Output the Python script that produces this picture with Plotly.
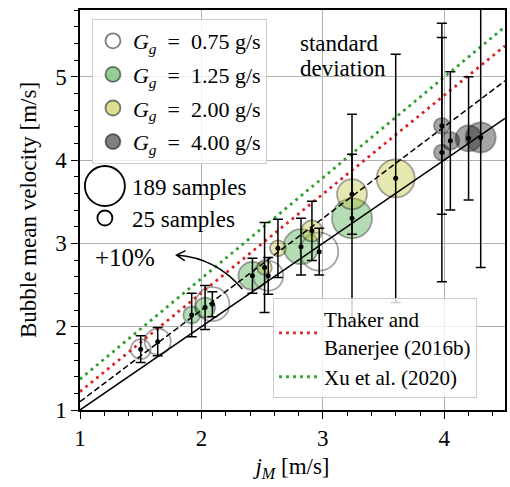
import numpy as np
import plotly.graph_objects as go

# ---------------- data ----------------
x_075 = [1.50, 1.64, 2.09, 2.55, 2.97]
y_075 = [1.73, 1.82, 2.27, 2.61, 2.90]
e_075 = [0.16, 0.17, 0.15, 0.22, 0.28]
n_075 = [47, 80, 137, 106, 171]

x_125 = [1.92, 2.03, 2.42, 2.82, 3.24]
y_125 = [2.14, 2.23, 2.61, 2.96, 3.30]
e_125 = [0.26, 0.265, 0.21, 0.34, 1.25]
n_125 = [34, 47, 93, 145, 189]

x_200 = [2.52, 2.63, 2.91, 3.24, 3.60]
y_200 = [2.71, 2.94, 3.15, 3.59, 3.78]
e_200 = [0.54, 0.35, 0.355, 0.48, 1.49]
n_200 = [25, 30, 52, 106, 171]

x_400 = [3.98, 3.98, 4.05, 4.20, 4.30]
y_400 = [4.41, 4.09, 4.23, 4.26, 4.27]
e_400 = [1.06, 1.55, 0.83, 0.74, 1.56]
n_400 = [30, 30, 38, 80, 106]

line_x = [1.0, 4.5]
ref_y = [1.0, 4.5]
plus10_y = [1.1, 4.95]
thaker_y = [1.22, 5.37]
xu_y = [1.37, 5.60]

x_ticks = [1, 2, 3, 4]
y_ticks = [1, 2, 3, 4, 5]

group_names = ["0.75", "1.25", "2.00", "4.00"]
# --------------------------------------

FONT = "Liberation Serif"
FS = 23
W, H = 510, 487
ML, MR, MT, MB = 80, 3, 10, 77
XR = [1, 4.5]
YR = [1, 5.8]
PW = W - ML - MR
PH = H - MT - MB

EDGE = "rgba(0,0,0,0.5)"
fills = ["rgba(0,0,0,0)", "rgba(44,160,44,0.5)", "rgba(188,189,34,0.5)", "rgba(0,0,0,0.5)"]

def diam(n):
    return [40 * np.sqrt(v / 189.0) for v in n]

def px2data(px, py):
    return (XR[0] + (px - ML) / PW * (XR[1] - XR[0]),
            YR[0] + (MT + PH - py) / PH * (YR[1] - YR[0]))

def px2paper(px, py):
    return ((px - ML) / PW, (MT + PH - py) / PH)

fig = go.Figure()

groups = [(x_075, y_075, e_075, n_075), (x_125, y_125, e_125, n_125),
          (x_200, y_200, e_200, n_200), (x_400, y_400, e_400, n_400)]

for (gx, gy, ge, gn), fc in zip(groups, fills):
    fig.add_trace(go.Scatter(x=gx, y=gy, mode="markers", showlegend=False,
                             marker=dict(size=diam(gn), color=fc,
                                         line=dict(color=EDGE, width=1.8)),
                             hoverinfo="skip"))

# reference lines
fig.add_trace(go.Scatter(x=line_x, y=ref_y, mode="lines", showlegend=False,
                         line=dict(color="black", width=1.5)))
fig.add_trace(go.Scatter(x=line_x, y=plus10_y, mode="lines", showlegend=False,
                         line=dict(color="black", width=1.5, dash="6px,3px")))
fig.add_trace(go.Scatter(x=line_x, y=thaker_y, mode="lines",
                         name="Thaker and<br>Banerjee (2016b)", legend="legend2",
                         line=dict(color="rgb(214,39,40)", width=2.8, dash="2.8px,4.2px")))
fig.add_trace(go.Scatter(x=line_x, y=xu_y, mode="lines",
                         name="Xu et al. (2020)", legend="legend2",
                         line=dict(color="rgb(44,160,44)", width=2.8, dash="2.8px,4.2px")))

# error bars + centre dots
for gx, gy, ge, gn in groups:
    fig.add_trace(go.Scatter(x=gx, y=gy, mode="markers", showlegend=False,
                             marker=dict(size=5, color="black"),
                             error_y=dict(type="data", array=ge, color="black",
                                          thickness=1.5, width=5)))

# legend-only entries for groups
for i, (name, fc) in enumerate(zip(group_names, fills)):
    fig.add_trace(go.Scatter(x=[None], y=[None], mode="markers", legend="legend",
                             legendgroup="g%d" % i,
                             name="<i>G</i><sub><i>g</i></sub>  =  %s g/s" % name,
                             marker=dict(size=15, color=fc if i else "white",
                                         line=dict(color=EDGE, width=1.8))))

# size legend
shapes = []
annotations = []
for (cx, cy, r, label) in [(105, 186, 20, "189 samples"), (105, 218, 7.5, "25 samples")]:
    ax_, ay_ = px2paper(cx, cy)
    shapes.append(dict(type="circle", xref="paper", yref="paper", xsizemode="pixel",
                       ysizemode="pixel", xanchor=ax_, yanchor=ay_,
                       x0=-r, x1=r, y0=-r, y1=r, line=dict(color="black", width=1.8)))
    tx, ty = px2paper(130, cy + 1)
    annotations.append(dict(x=tx, y=ty, xref="paper", yref="paper", text=label,
                            showarrow=False, xanchor="left", yanchor="middle",
                            font=dict(family=FONT, size=FS, color="black")))

for txt, cy in (("standard", 43), ("deviation", 68)):
    tx, ty = px2paper(299, cy)
    annotations.append(dict(x=tx, y=ty, xref="paper", yref="paper", text=txt,
                            showarrow=False, xanchor="left", yanchor="middle",
                            font=dict(family=FONT, size=FS, color="black")))
tx, ty = px2paper(93, 257)
annotations.append(dict(x=tx, y=ty, xref="paper", yref="paper", text="+10%",
                        showarrow=False, xanchor="left", yanchor="middle",
                        font=dict(family=FONT, size=25, color="black")))

# curved arrow
P0 = (243, 289); C = (217, 258); P1 = (177, 255)
d = np.array([P1[0] - C[0], P1[1] - C[1]], float)
d /= np.linalg.norm(d)
back = -d
heads = []
for ang in (np.radians(30), -np.radians(30)):
    rot = np.array([[np.cos(ang), -np.sin(ang)], [np.sin(ang), np.cos(ang)]])
    v = rot @ back * 10
    heads.append((P1[0] + v[0], P1[1] + v[1]))
pts = [px2data(*p) for p in (P0, C, P1, heads[0], heads[1])]
path = "M %f,%f Q %f,%f %f,%f M %f,%f L %f,%f L %f,%f" % (
    pts[0][0], pts[0][1], pts[1][0], pts[1][1], pts[2][0], pts[2][1],
    pts[3][0], pts[3][1], pts[2][0], pts[2][1], pts[4][0], pts[4][1])
shapes.append(dict(type="path", xref="x", yref="y", path=path,
                   line=dict(color="black", width=1.5)))

lg1x, lg1y = px2paper(92, 19)
lg2x, lg2y = px2paper(274, 398)

axis_common = dict(showgrid=True, gridcolor="#b0b0b0", gridwidth=1.3,
                   showline=True, linecolor="black", linewidth=1.5, mirror=True,
                   ticks="outside", ticklen=7, tickwidth=1.3, tickcolor="black",
                   zeroline=False,
                   tickfont=dict(family=FONT, size=FS, color="black"),
                   minor=dict(dtick=0.2, tick0=1, ticks="outside", ticklen=4,
                              tickwidth=1, tickcolor="black", showgrid=False))

fig.update_layout(
    width=W, height=H,
    margin=dict(l=ML, r=MR, t=MT, b=MB),
    paper_bgcolor="white", plot_bgcolor="white",
    xaxis=dict(range=XR, tickvals=x_ticks,
               title=dict(text="<i>j</i><sub><i>M</i></sub> [m/s]",
                          font=dict(family=FONT, size=FS, color="black"), standoff=8),
               **axis_common),
    yaxis=dict(range=YR, tickvals=y_ticks,
               title=dict(text="Bubble mean velocity [m/s]",
                          font=dict(family=FONT, size=FS, color="black"), standoff=12),
               **axis_common),
    legend=dict(x=lg1x, y=lg1y, xanchor="left", yanchor="top",
                bgcolor="rgba(255,255,255,0.8)", bordercolor="#cccccc", borderwidth=1,
                font=dict(family=FONT, size=22, color="black"),
                tracegroupgap=2, itemwidth=30),
    legend2=dict(x=lg2x, y=lg2y, xanchor="left", yanchor="bottom",
                 bgcolor="rgba(255,255,255,0.8)", bordercolor="#cccccc", borderwidth=1,
                 font=dict(family=FONT, size=21, color="black"), itemwidth=40,
                 tracegroupgap=0),
    shapes=shapes,
    annotations=annotations,
    showlegend=True,
)

fig.write_html("out.html")
